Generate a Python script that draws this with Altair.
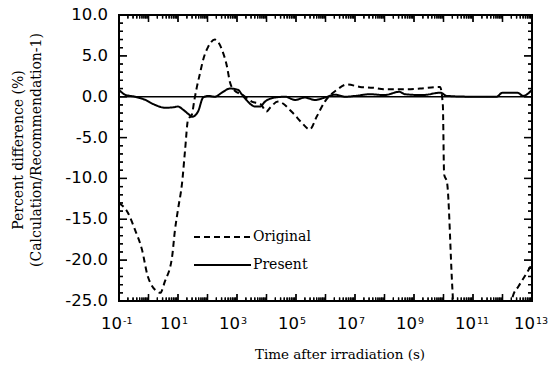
import altair as alt
import pandas as pd

# ---- data ----
orig_t = [0.1, 0.2, 0.35, 0.6, 0.95, 2.1, 2.5, 3.6, 6.3, 7.9, 10, 13.8, 17.4, 21.9, 29.5,
          35.5, 43.7, 56, 71, 105, 178, 309, 457, 575, 794, 1585, 3162, 6310, 1.0e4,
          1.32e4, 2.45e4, 7.9e4, 1.58e5, 2.95e5, 5.1e5, 9.5e5, 2.45e6, 5.4e6, 1.48e7,
          4.1e7, 1.0e8, 4.0e8, 1.6e9, 7.6e9, 9.5e9, 1.05e10, 1.32e10, 2.0e10, 2.3e10,
          1.8e12, 2.2e12, 3.5e12, 5.6e12, 1.0e13]
orig_v = [-13.0, -14.2, -16.3, -18.7, -22.0, -23.9, -24.0, -22.6, -19.6, -16.3, -13.8, -10.5,
          -6.5, -2.8, -2.2, -0.5, 1.2, 2.9, 4.5, 6.1, 7.0, 5.75, 3.7, 1.8, 0.8, 0.2, -0.6,
          -0.9, -1.8, -1.35, -0.6, -2.0, -3.2, -4.0, -2.4, -0.6, 0.85, 1.5, 1.2, 1.1, 0.9,
          0.9, 1.0, 1.2, -1.0, -9.5, -10.5, -23.5, -27.0, -27.0, -24.5, -23.2, -22.0, -20.5]

pres_t = [0.1, 0.16, 0.35, 0.76, 1.66, 3.6, 6.8, 10, 15, 26, 30, 48, 71, 105, 178, 309, 575,
          1070, 1480, 2340, 4070, 6030, 8900, 1.95e4, 4.3e4, 9.3e4, 2.0e5, 4.4e5, 9.5e5,
          2.1e6, 4.6e6, 1.0e7, 3.2e7, 1.0e8, 3.2e8, 5.0e8, 2.0e9, 8.0e9, 1.26e10, 1.0e11,
          6.3e11, 1.0e12, 3.2e12, 5.0e12, 1.0e13]
pres_v = [0.85, 0.25, 0.0, -0.37, -1.0, -1.35, -1.3, -1.2, -1.6, -2.3, -2.45, -1.8, -0.1,
          0.1, 0.0, 0.5, 1.0, 0.85, 0.25, -0.6, -1.2, -1.2, -0.6, -0.1, 0.0, -0.4, -0.1,
          -0.4, -0.1, 0.25, 0.0, 0.1, 0.3, 0.2, 0.6, 0.3, 0.2, 0.5, 0.1, 0.0, 0.0, 0.5,
          0.5, 0.1, 0.85]

legend_names = ["Original", "Present"]
zero_value = [0.0]

x_title = ["Time after irradiation (s)"]
y_title_line1 = ["Percent difference (%)"]
y_title_line2 = ["(Calculation/Recommendation-1)"]

y_domain = [-25, 10]
y_major_values = [-25, -20, -15, -10, -5, 0, 5, 10]
y_major_labels = ["-25.0", "-20.0", "-15.0", "-10.0", "-5.0", "0.0", "5.0", "10.0"]
y_minor_values = list(range(-25, 11))

x_decade_exponents = list(range(-1, 14))
x_label_values = [0.1, 10, 1e3, 1e5, 1e7, 1e9, 1e11, 1e13]
x_label_base = ["10"] * 8
x_label_exps = ["-1", "1", "3", "5", "7", "9", "11", "13"]

x_decades = [10.0 ** k for k in x_decade_exponents]
x_minor_values = [m * 10.0 ** k for k in range(-1, 13) for m in range(2, 10)]
x_domain = [x_decades[0], x_decades[-1]]

# ---- layout constants (pixels) ----
W, H = 413, 286
PX_PER_UNIT = H / (y_domain[1] - y_domain[0])
PX_PER_DECADE = W / (x_decade_exponents[-1] - x_decade_exponents[0])
XMAJ, XMIN, YMAJ, YMIN = 7, 3.5, 8, 4

# ---- tables ----
df = pd.concat([
    pd.DataFrame({"t": orig_t, "v": orig_v, "series": legend_names[0]}),
    pd.DataFrame({"t": pres_t, "v": pres_v, "series": legend_names[1]}),
])
zero_df = pd.DataFrame({"t": [x_domain[0]], "t2": [x_domain[1]], "v": zero_value})

# frame outline and inward ticks as short two-point paths (same mark type as the curves)
path_rows = []
corners = [(x_domain[0], y_domain[0]), (x_domain[1], y_domain[0]), (x_domain[1], y_domain[1]),
           (x_domain[0], y_domain[1]), (x_domain[0], y_domain[0])]
for k, (t, v) in enumerate(corners):
    path_rows.append({"id": "frame", "k": k, "t": t, "v": v, "w": 2.0})
n = 0
for edge, sign in ((y_domain[0], 1), (y_domain[1], -1)):
    for t in x_decades + x_minor_values:
        L = XMAJ if t in x_decades else XMIN
        path_rows.append({"id": f"x{n}", "k": 0, "t": t, "v": edge, "w": 1.3})
        path_rows.append({"id": f"x{n}", "k": 1, "t": t, "v": edge + sign * L / PX_PER_UNIT,
                          "w": 1.3})
        n += 1
for edge, sign in ((x_domain[0], 1), (x_domain[1], -1)):
    for v in y_minor_values:
        L = YMAJ if v in y_major_values else YMIN
        path_rows.append({"id": f"y{n}", "k": 0, "t": edge, "v": v, "w": 1.3})
        path_rows.append({"id": f"y{n}", "k": 1, "t": edge * 10 ** (sign * L / PX_PER_DECADE),
                          "v": v, "w": 1.3})
        n += 1
paths_df = pd.DataFrame(path_rows)

# the same outline/ticks again as rules built exactly like the zero line
hrule_rows = [{"t": x_domain[0], "t2": x_domain[1], "v": e} for e in y_domain]
for edge, sign in ((x_domain[0], 1), (x_domain[1], -1)):
    for v in y_minor_values:
        L = YMAJ if v in y_major_values else YMIN
        hrule_rows.append({"t": edge, "t2": edge * 10 ** (sign * L / PX_PER_DECADE), "v": v})
hrules_df = pd.DataFrame(hrule_rows)
vrule_rows = [{"t": e, "v": y_domain[0], "v2": y_domain[1]} for e in x_domain]
for edge, sign in ((y_domain[0], 1), (y_domain[1], -1)):
    for t in x_decades + x_minor_values:
        L = XMAJ if t in x_decades else XMIN
        vrule_rows.append({"t": t, "v": edge, "v2": edge + sign * L / PX_PER_UNIT})
vrules_df = pd.DataFrame(vrule_rows)

xlab_df = pd.DataFrame({"t": x_label_values, "base": x_label_base, "exp": x_label_exps})
ylab_df = pd.DataFrame({"v": y_major_values, "text": y_major_labels})

xscale = alt.Scale(type="log", domain=x_domain)
yscale = alt.Scale(domain=y_domain, nice=False, zero=False)
X = alt.X("t:Q", scale=xscale, axis=None)
Y = alt.Y("v:Q", scale=yscale, axis=None)

paths = alt.Chart(paths_df).mark_line(color="black").encode(
    x=X, y=Y, detail="id:N", order="k:Q",
    strokeWidth=alt.StrokeWidth("w:Q", scale=None, legend=None),
)
hrules = alt.Chart(hrules_df).mark_rule(color="black", strokeWidth=1.3).encode(
    x=X, x2="t2:Q", y=Y)
vrules = alt.Chart(vrules_df).mark_rule(color="black", strokeWidth=1.3).encode(
    x=X, y=Y, y2="v2:Q")

zero = alt.Chart(zero_df).mark_rule(color="black", strokeWidth=1.5).encode(
    x=X, x2="t2:Q", y=Y)

LABEL_FONT = "DejaVu Sans"
xlabels = alt.Chart(xlab_df).mark_text(
    font=LABEL_FONT, fontSize=16.5, color="black", align="right", baseline="top", dx=3
).encode(x=X, y=alt.value(H + 15), text="base:N")
xsups = alt.Chart(xlab_df).mark_text(
    font=LABEL_FONT, fontSize=9.5, color="black", align="left", baseline="top", dx=4
).encode(x=X, y=alt.value(H + 15), text="exp:N")

ylabels = alt.Chart(ylab_df).mark_text(
    font=LABEL_FONT, fontSize=16.5, color="black", align="right", baseline="middle", dx=-11
).encode(x=alt.value(0), y=Y, text="text:N")

xtitle = alt.Chart(pd.DataFrame({"text": x_title})).mark_text(
    font="DejaVu Serif", fontSize=13.5, color="black", align="center", baseline="alphabetic"
).encode(x=alt.value(221), y=alt.value(H + 58), text="text:N")

ytitle1 = alt.Chart(pd.DataFrame({"text": y_title_line1})).mark_text(
    font="DejaVu Serif", fontSize=14, color="black", align="center", baseline="middle",
    angle=270
).encode(x=alt.value(-100), y=alt.value(135), text="text:N")
ytitle2 = alt.Chart(pd.DataFrame({"text": y_title_line2})).mark_text(
    font="DejaVu Serif", fontSize=14, color="black", align="center", baseline="middle",
    angle=270
).encode(x=alt.value(-82), y=alt.value(135), text="text:N")

lines = alt.Chart(df).mark_line(color="black", strokeWidth=2, clip=True,
                                interpolate="monotone").encode(
    x=X, y=Y,
    strokeDash=alt.StrokeDash(
        "series:N",
        scale=alt.Scale(domain=legend_names, range=[[6, 4], [1, 0]]),
        legend=alt.Legend(title=None, orient="none", legendX=74, legendY=208,
                          symbolType="stroke", symbolSize=3249, symbolStrokeWidth=2,
                          symbolStrokeColor="black", labelFont="DejaVu Serif",
                          labelFontSize=14, labelColor="black", labelOffset=1,
                          clipHeight=28, rowPadding=0, padding=0),
    ),
    order=alt.Order("t:Q"),
)

chart = alt.layer(paths, hrules, vrules, zero, xlabels, xsups, ylabels, xtitle, ytitle1,
                  ytitle2, lines).properties(
    width=W, height=H,
    autosize=alt.AutoSizeParams(type="none"),
    padding={"left": 119, "top": 15, "right": 22, "bottom": 70},
    background="white",
).configure_view(stroke="black", strokeWidth=2)

chart.save("out.html", embed_options={"renderer": "svg", "actions": False})
